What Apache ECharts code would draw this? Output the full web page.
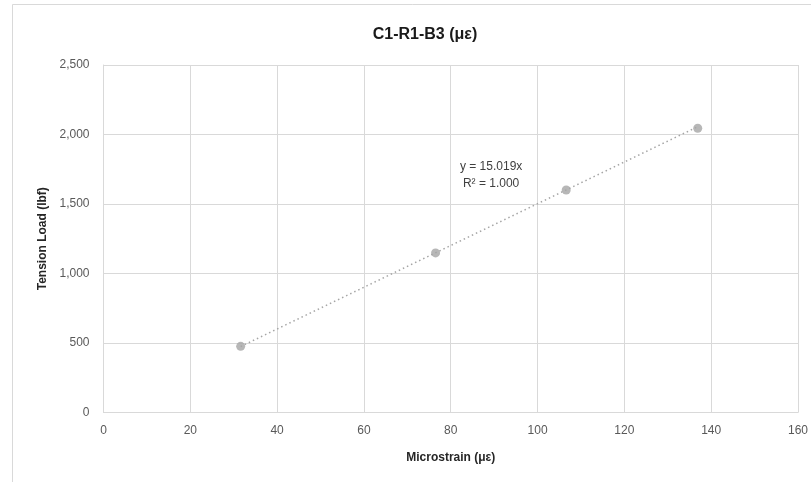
<!DOCTYPE html>
<html><head><meta charset="utf-8">
<script src="https://cdn.jsdelivr.net/npm/echarts@6/dist/echarts.min.js"></script>
<style>html,body{margin:0;padding:0;background:#fff;}#c{width:811px;height:482px;}</style>
</head><body><div id="c"></div>
<script>
const titleText = 'C1-R1-B3 (με)';
const xName = 'Microstrain (με)';
const yName = 'Tension Load (lbf)';
const microstrain = [31.6, 76.5, 106.6, 136.9];
const tensionLoad = [476, 1148, 1601, 2045];
const slope = 15.019;
const equationLines = ['y = 15.019x', 'R² = 1.000'];
const equationAt = [89.3, 1708];

const FONT = 'Liberation Sans, Arial, sans-serif';
const points = microstrain.map((x, i) => [x, tensionLoad[i]]);
const xMin = Math.min(...microstrain), xMax = Math.max(...microstrain);
const trend = [[xMin, slope * xMin], [xMax, slope * xMax]];

const chart = echarts.init(document.getElementById('c'));
chart.setOption({
  animation: false,
  backgroundColor: '#fff',
  title: { text: titleText, left: 420, top: 22, textAlign: 'center',
    textStyle: { fontFamily: FONT, fontSize: 16, fontWeight: 'bold', color: '#1a1a1a' } },
  grid: { left: 103.5, right: 12, top: 65, bottom: 69.5, containLabel: false },
  xAxis: {
    type: 'value', min: 0, max: 160, interval: 20,
    name: xName, nameLocation: 'middle', nameGap: 39,
    nameTextStyle: { fontFamily: FONT, fontSize: 12, fontWeight: 'bold', color: '#262626' },
    axisLine: { show: true, lineStyle: { color: '#d9d9d9', width: 1 } },
    axisTick: { show: false },
    axisLabel: { fontFamily: FONT, fontSize: 12, color: '#595959', margin: 12 },
    splitLine: { show: true, lineStyle: { color: '#d9d9d9', width: 1 } }
  },
  yAxis: {
    type: 'value', min: 0, max: 2500, interval: 500,
    name: yName, nameLocation: 'middle', nameGap: 55, nameRotate: 90,
    nameTextStyle: { fontFamily: FONT, fontSize: 12, fontWeight: 'bold', color: '#262626' },
    axisLine: { show: true, lineStyle: { color: '#d9d9d9', width: 1 } },
    axisTick: { show: false },
    axisLabel: { fontFamily: FONT, fontSize: 12, color: '#595959', margin: 14,
      formatter: v => v.toLocaleString('en-US') },
    splitLine: { show: true, lineStyle: { color: '#d9d9d9', width: 1 } }
  },
  series: [
    { type: 'line', data: trend, symbol: 'none', silent: true,
      lineStyle: { color: '#a5a5a5', width: 1.5, type: [1.5, 3] }, z: 2 },
    { type: 'scatter', data: points, symbol: 'circle', symbolSize: 9,
      itemStyle: { color: '#a5a5a5' }, z: 3 }
  ]
});

const p = chart.convertToPixel({ gridIndex: 0 }, equationAt);
chart.setOption({
  graphic: [
    { type: 'rect', shape: { x: 12.5, y: 4.5, width: 820, height: 500 }, silent: true, z: -10,
      style: { fill: 'none', stroke: '#d9d9d9', lineWidth: 1 } },
    { type: 'text', x: p[0], y: p[1], z: 10,
      style: { text: equationLines.join('\n'), fontFamily: FONT, fontSize: 12, lineHeight: 17,
        fill: '#404040', align: 'center', verticalAlign: 'middle' } }
  ]
});
</script></body></html>
